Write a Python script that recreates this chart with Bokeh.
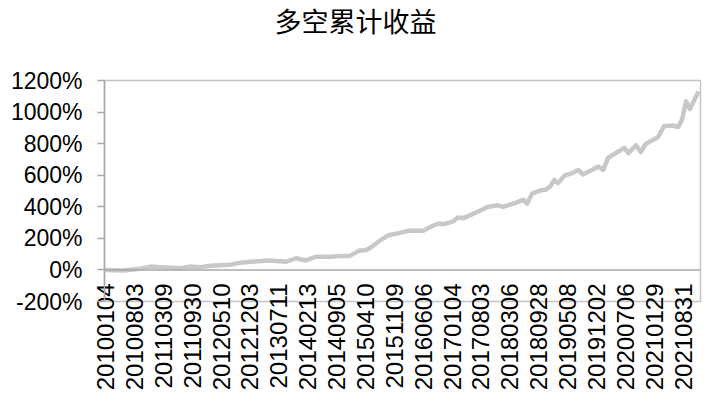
import math
from bokeh.plotting import figure
from bokeh.models import Range1d, FixedTicker, PrintfTickFormatter, Span, Title
from bokeh.embed import file_html
from bokeh.resources import INLINE

# ---- data ----
title_text = "多空累计收益"

date_labels = ["20100104", "20100803", "20110309", "20110930", "20120510",
               "20121203", "20130711", "20140213", "20140905", "20150410",
               "20151109", "20160606", "20170104", "20170803", "20180306",
               "20180928", "20190508", "20191202", "20200706", "20210129",
               "20210831"]
label_step = 30  # one label every 30 categories

idx = [0, 19, 36, 47, 57, 78, 88, 99, 109, 130,
       140, 151, 171, 188, 198, 208, 219, 234, 244, 254,
       263, 271, 277, 285, 294, 306, 315, 330, 339, 346,
       351, 360, 366, 372, 386, 397, 407, 413, 428, 434,
       438, 443, 452, 457, 462, 466, 470, 477, 485, 491,
       496, 512, 517, 522, 533, 539, 543, 551, 556, 561,
       574, 580, 589, 595, 599, 603, 607, 612, 616]
ret_pct = [0, -4, 8, 21, 17, 11, 21, 17, 27, 33,
           46, 52, 59, 52, 74, 60, 84, 84, 88, 89,
           121, 126, 148, 186, 220, 235, 248, 248, 277, 294,
           290, 304, 332, 328, 367, 399, 410, 399, 430, 445,
           420, 483, 504, 508, 529, 571, 550, 599, 613, 634,
           605, 655, 634, 710, 752, 773, 740, 790, 747, 798,
           842, 910, 915, 905, 956, 1068, 1019, 1082, 1131]

y_ticks = [-200, 0, 200, 400, 600, 800, 1000, 1200]

# ---- figure ----
p = figure(width=704, height=405, output_backend="svg", toolbar_location=None,
           x_range=Range1d(-1, 618), y_range=Range1d(-200, 1200),
           min_border_left=104, min_border_right=4, min_border_bottom=104,
           min_border_top=79)
p.title = None
# the title sits high above the plot area: an empty second line keeps the gap
p.add_layout(Title(text=title_text + "\n ", text_font="Noto Sans CJK SC",
                   text_font_size="27px", text_font_style="normal",
                   text_color="#000000", align="left", offset=170,
                   vertical_align="top", standoff=0), "above")

p.background_fill_color = "white"
p.border_fill_color = "white"
p.outline_line_color = "#C4C4C4"
p.outline_line_width = 1.5
p.xgrid.visible = False
p.ygrid.visible = False

p.line(idx, ret_pct, line_color="#C8C8C8", line_width=4.5, line_join="round")

p.add_layout(Span(location=0, dimension="width", line_color="#A8A8A8",
                  line_width=1.5))

# y axis
ya = p.yaxis[0]
ya.ticker = FixedTicker(ticks=y_ticks)
ya.formatter = PrintfTickFormatter(format="%d%%")
ya.axis_line_color = "#A8A8A8"
ya.axis_line_width = 1.5
ya.major_tick_line_color = "#A8A8A8"
ya.major_tick_line_width = 1.5
ya.major_tick_out = 7
ya.major_tick_in = 0
ya.minor_tick_line_color = None
ya.major_label_standoff = 15
ya.major_label_text_font = "Liberation Sans"
ya.major_label_text_font_size = "23px"
ya.major_label_text_color = "#000000"

# x axis: category labels hang just under the 0% line (negative standoff)
xa = p.xaxis[0]
tick_pos = [i * label_step for i in range(len(date_labels))]
xa.ticker = FixedTicker(ticks=tick_pos)
xa.major_label_overrides = {t: lab for t, lab in zip(tick_pos, date_labels)}
xa.major_label_orientation = math.pi / 2
xa.axis_line_color = None
xa.major_tick_line_color = None
xa.minor_tick_line_color = None
xa.major_tick_out = 0
xa.major_tick_in = 0
xa.major_label_standoff = -18
xa.major_label_text_font = "Liberation Sans"
xa.major_label_text_font_size = "24px"
xa.major_label_text_color = "#000000"

open("out.html", "w").write(file_html(p, INLINE))
